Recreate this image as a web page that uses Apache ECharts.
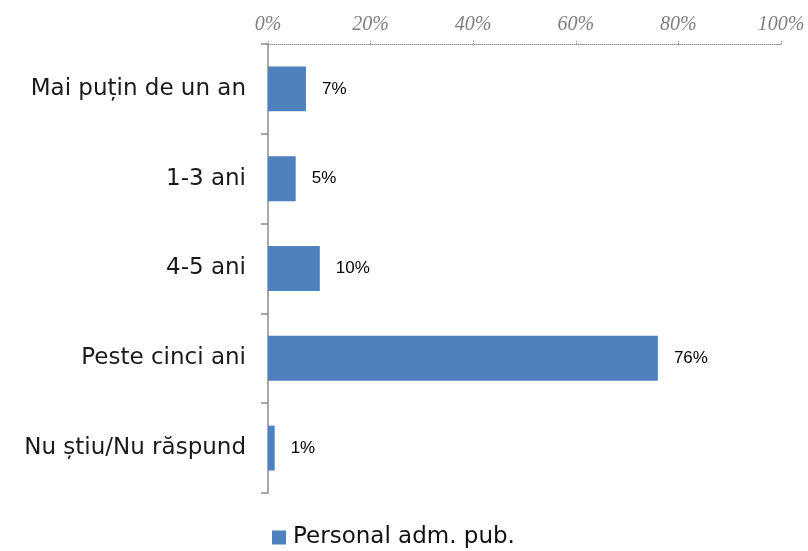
<!DOCTYPE html>
<html>
<head>
<meta charset="utf-8">
<script src="https://cdn.jsdelivr.net/npm/echarts@6/dist/echarts.min.js"></script>
<style>
  html, body { margin: 0; padding: 0; background: #fff; }
  #chart { width: 808px; height: 551px; }
</style>
</head>
<body>
<div id="chart"></div>
<script>
const categories = ["Mai puțin de un an", "1-3 ani", "4-5 ani", "Peste cinci ani", "Nu știu/Nu răspund"];
const seriesName = "Personal adm. pub.";
const values = [7.4, 5.4, 10.1, 76.0, 1.3];
const tickValues = [0, 20, 40, 60, 80, 100];

const chart = echarts.init(document.getElementById("chart"), null, { renderer: "canvas" });

chart.setOption({
  animation: false,
  backgroundColor: "#fff",
  grid: { left: 268, right: 27, top: 44, bottom: 58, containLabel: false },
  legend: {
    data: [seriesName],
    top: 521,
    left: 267,
    icon: "rect",
    itemWidth: 14,
    itemHeight: 14,
    itemGap: 6,
    textStyle: { fontFamily: "DejaVu Sans", fontSize: 23, color: "#111", padding: [0, 0, 0, 2] }
  },
  xAxis: {
    type: "value",
    position: "top",
    min: 0,
    max: 100,
    interval: 20,
    axisLine: { show: true, lineStyle: { color: "#8c8c8c", type: "dotted", width: 1 } },
    axisTick: { show: true, length: 4, lineStyle: { color: "#8c8c8c", type: "dotted" } },
    splitLine: { show: false },
    axisLabel: {
      margin: 9,
      fontFamily: "Liberation Serif",
      fontStyle: "italic",
      fontSize: 20,
      color: "#7f7f7f",
      formatter: (v) => tickValues.includes(v) ? v + "%" : ""
    }
  },
  yAxis: {
    type: "category",
    data: categories,
    inverse: true,
    axisLine: { show: true, lineStyle: { color: "#8c8c8c", width: 1.5 } },
    axisTick: { show: true, length: 7, lineStyle: { color: "#8c8c8c", width: 1.5 } },
    axisLabel: {
      margin: 22,
      fontFamily: "DejaVu Sans",
      fontSize: 23,
      color: "#1a1a1a"
    }
  },
  series: [
    {
      name: seriesName,
      type: "bar",
      data: values,
      barCategoryGap: "50%",
      itemStyle: { color: "#4f81bd" },
      label: {
        show: true,
        position: "right",
        distance: 16,
        fontFamily: "Liberation Sans",
        fontSize: 17,
        color: "#000",
        formatter: (p) => Math.round(p.value) + "%"
      }
    }
  ]
});
</script>
</body>
</html>
